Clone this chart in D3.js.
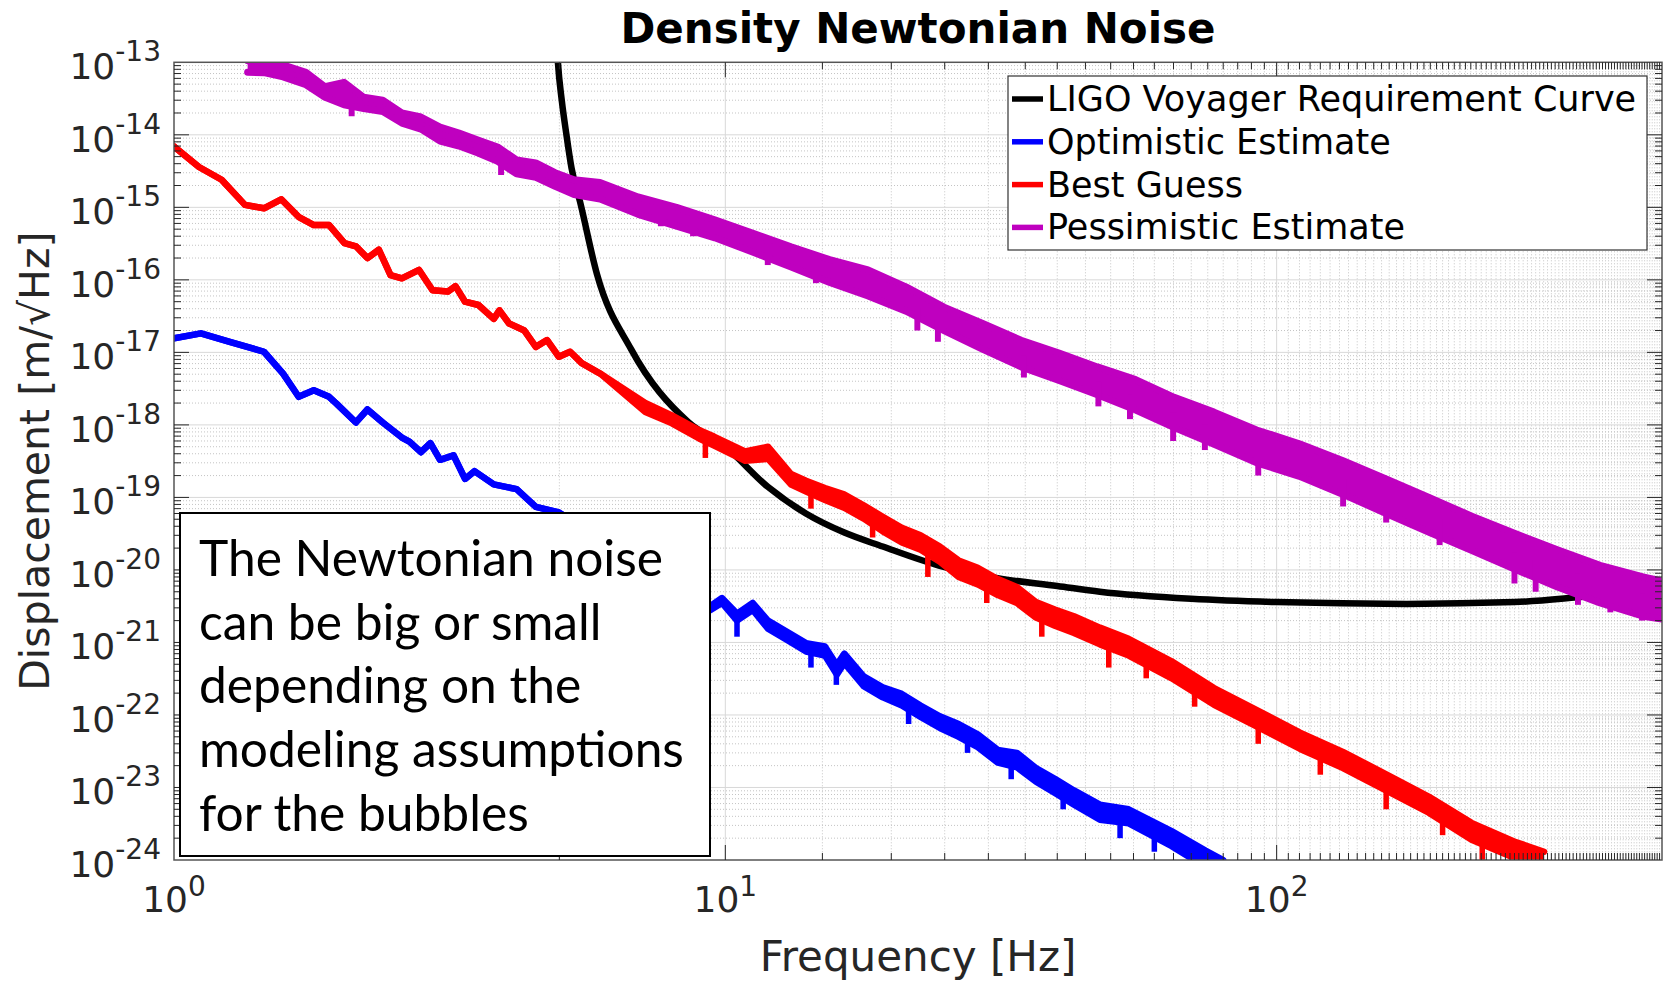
<!DOCTYPE html>
<html><head><meta charset="utf-8">
<script src="https://cdn.jsdelivr.net/npm/d3@7"></script>
<style>body{margin:0;background:#fff}text{font-family:"DejaVu Sans",sans-serif}</style>
</head><body>
<svg id="chart" width="1672" height="987"></svg>
<script>
// ---------- data ----------
const titleText = "Density Newtonian Noise";
const xLabelText = "Frequency [Hz]";
const yLabelText = "Displacement [m/\u221AHz]";
const xTickValues = [1, 10, 100];
const xTickExponents = ["0", "1", "2"];
const yTickValues = [1e-24,1e-23,1e-22,1e-21,1e-20,1e-19,1e-18,1e-17,1e-16,1e-15,1e-14,1e-13];
const yTickExponents = ["-24","-23","-22","-21","-20","-19","-18","-17","-16","-15","-14","-13"];
const legendLabels = ["LIGO Voyager Requirement Curve","Optimistic Estimate","Best Guess","Pessimistic Estimate"];
const seriesColors = ["#000000","#0000ff","#ff0000","#bf00bf"];
const noteLines = ["The Newtonian noise","can be big or small","depending on the","modeling assumptions","for the bubbles"];

// LIGO Voyager requirement (smooth curve)
const reqFreq = [4.93,4.97,5.05,5.15,5.26,5.45,5.85,6.75,8.56,10.0,11.94,14.0,16.4,19.3,24.4,31.2,40,47.8,70,100,172,270,366,500];
const reqValue = [3e-13,1e-13,3e-14,1e-14,3.5e-15,1.2e-15,1.2e-16,1.1e-17,1.1e-18,5.0e-19,1.4e-19,6.0e-20,3.3e-20,2.1e-20,1.15e-20,7.7e-21,6.0e-21,5.0e-21,4.0e-21,3.6e-21,3.4e-21,3.6e-21,4.3e-21,5.2e-21];

// Optimistic estimate (upper / lower envelope of the noisy trace)
const optFreq = [1.0,1.119,1.262,1.456,1.577,1.683,1.793,1.911,1.973,2.138,2.243,2.391,2.59,2.673,2.805,2.918,3.038,3.214,3.372,3.507,3.802,4.182,4.532,4.99,
  9.40,9.86,10.5,11.21,11.95,12.94,14.01,15.16,15.93,16.44,17.82,19.3,20.9,22.6,24.5,26.5,28.7,31.2,33.8,36.6,39.6,42.9,47.8,53.9,64.5,74.3,80];
const optUpper = [1.56e-17,1.83e-17,1.40e-17,1.02e-17,5.1e-18,2.44e-18,3.0e-18,2.44e-18,1.95e-18,1.08e-18,1.63e-18,1.08e-18,6.7e-19,5.9e-19,4.2e-19,5.6e-19,3.3e-19,3.8e-19,1.8e-19,2.3e-19,1.51e-19,1.3e-19,7.4e-20,6.2e-20,
  3.2e-21,4.1e-21,2.5e-21,3.5e-21,2.0e-21,1.4e-21,9.8e-22,8.8e-22,4.9e-22,7.0e-22,3.4e-22,2.4e-22,1.95e-22,1.35e-22,9.6e-23,7.5e-23,5.4e-23,3.3e-23,3.0e-23,1.85e-23,1.32e-23,9.1e-24,5.8e-24,5.0e-24,2.5e-24,1.35e-24,1.0e-24];
const optLower = [1.56e-17,1.83e-17,1.40e-17,1.02e-17,5.1e-18,2.44e-18,3.0e-18,2.44e-18,1.95e-18,1.08e-18,1.63e-18,1.08e-18,6.7e-19,5.9e-19,4.2e-19,5.6e-19,3.3e-19,3.8e-19,1.8e-19,2.3e-19,1.51e-19,1.3e-19,7.4e-20,6.2e-20,
  2.8e-21,3.5e-21,2.0e-21,2.8e-21,1.55e-21,1.08e-21,7.5e-22,6.6e-22,3.6e-22,5.2e-22,2.5e-22,1.75e-22,1.35e-22,9.4e-23,6.6e-23,5.0e-23,3.6e-23,2.2e-23,1.9e-23,1.2e-23,8.4e-24,5.8e-24,3.6e-24,3.2e-24,1.55e-24,8.0e-25,6.0e-25];
// downward spikes of the optimistic trace: frequency, value where the spike leaves the trace, spike tip
const optDipFreq = [10.5,14.3,15.9,21.5,27.5,33.0,41.0,52.0,60.0];
const optDipFrom = [2.2e-21,8.5e-22,4.3e-22,1.4e-22,5.8e-23,2.5e-23,1.0e-23,3.8e-24,2.6e-24];
const optDipTo   = [1.2e-21,4.5e-22,2.6e-22,7.5e-23,3.0e-23,1.3e-23,5.0e-24,2.0e-24,1.3e-24];

// Best guess
const bestFreq = [1.0,1.11,1.22,1.345,1.456,1.565,1.682,1.793,1.911,2.038,2.138,2.243,2.353,2.47,2.59,2.783,2.944,3.139,3.24,3.372,3.566,3.802,3.893,4.053,4.32,4.532,4.75,4.99,5.23,5.49,5.93,
  7.16,8.0,8.96,9.54,10.86,11.95,13.16,14.01,15.16,16.42,17.82,19.3,20.9,22.6,24.5,26.5,28.7,31.2,33.8,36.6,39.6,42.9,47.8,53.9,64.5,77.0,92.1,110.3,131.9,157.8,188.7,225.7,269.6,305.5];
const bestUpper = [6.9e-15,3.6e-15,2.4e-15,1.08e-15,9.7e-16,1.29e-15,7.4e-16,5.7e-16,5.7e-16,3.2e-16,2.9e-16,2.0e-16,2.6e-16,1.16e-16,1.05e-16,1.37e-16,7.2e-17,6.9e-17,8.2e-17,5.0e-17,4.5e-17,2.9e-17,3.8e-17,2.5e-17,2.0e-17,1.19e-17,1.48e-17,8.7e-18,1.02e-17,7.1e-18,5.1e-18,
  2.0e-18,1.35e-18,8.5e-19,6.9e-19,4.3e-19,5.0e-19,2.1e-19,1.7e-19,1.35e-19,1.1e-19,7.8e-20,5.4e-20,3.8e-20,3.0e-20,2.1e-20,1.35e-20,1.07e-20,7.5e-21,5.8e-21,3.6e-21,2.85e-21,2.3e-21,1.6e-21,1.12e-21,5.5e-22,2.35e-22,1.17e-22,5.7e-23,3.1e-23,1.53e-23,7.5e-24,3.25e-24,1.8e-24,1.3e-24];
const bestLower = [6.9e-15,3.6e-15,2.4e-15,1.08e-15,9.7e-16,1.29e-15,7.4e-16,5.7e-16,5.7e-16,3.2e-16,2.9e-16,2.0e-16,2.6e-16,1.16e-16,1.05e-16,1.37e-16,7.2e-17,6.9e-17,8.2e-17,5.0e-17,4.5e-17,2.9e-17,3.8e-17,2.5e-17,2.0e-17,1.19e-17,1.48e-17,8.7e-18,1.02e-17,7.1e-18,5.1e-18,
  1.5e-18,1.05e-18,6.5e-19,5.2e-19,3.2e-19,3.4e-19,1.5e-19,1.2e-19,9.2e-20,7.2e-20,5.1e-20,3.4e-20,2.4e-20,1.9e-20,1.3e-20,8.0e-21,6.3e-21,4.5e-21,3.5e-21,2.2e-21,1.7e-21,1.35e-21,9.4e-22,6.6e-22,3.2e-22,1.38e-22,6.9e-23,3.4e-23,1.85e-23,9.1e-24,4.5e-24,1.9e-24,1.07e-24,7.7e-25];
const bestDipFreq = [9.2,14.3,18.5,23.3,29.8,37.5,49.6,58.0,71.0,92.6,120,158,200,236,280];
const bestDipFrom = [6.0e-19,1.3e-19,5.5e-20,2.0e-20,7.0e-21,2.5e-21,1.1e-21,7.0e-22,3.0e-22,9.0e-23,3.5e-23,1.2e-23,5.0e-24,2.3e-24,1.2e-24];
const bestDipTo   = [3.5e-19,7.0e-20,2.8e-20,8.0e-21,3.5e-21,1.2e-21,4.5e-22,3.2e-22,1.3e-22,4.0e-23,1.5e-23,5.0e-24,2.2e-24,1.0e-24,5.0e-25];

// Pessimistic estimate
const pessFreq = [1.36,1.456,1.577,1.735,1.879,2.034,2.208,2.391,2.59,2.805,3.038,3.289,3.559,3.863,4.182,4.532,4.911,5.317,5.926,6.945,8.155,9.57,11.23,13.16,15.46,18.15,21.27,24.93,29.31,34.4,40.3,47.3,55.5,65.2,77,92,110,132,158,189,226,270,323,386,462,500];
const pessUpper = [1.05e-13,1.0e-13,9.2e-14,7.3e-14,4.6e-14,5.3e-14,3.3e-14,3.0e-14,2.0e-14,1.76e-14,1.28e-14,1.06e-14,8.5e-15,6.8e-15,4.5e-15,4.1e-15,3.0e-15,2.4e-15,2.2e-15,1.39e-15,1.0e-15,6.7e-16,4.4e-16,2.85e-16,1.9e-16,1.37e-16,8.0e-17,4.2e-17,2.5e-17,1.47e-17,9.8e-18,6.3e-18,4.2e-18,2.4e-18,1.5e-18,8.5e-19,5.5e-19,3.2e-19,1.8e-19,1.0e-19,5.5e-20,3.2e-20,1.9e-20,1.16e-20,8.0e-21,7.0e-21];
const pessLower = [7.3e-14,7.2e-14,6.3e-14,4.9e-14,3.3e-14,2.6e-14,2.3e-14,2.1e-14,1.45e-14,1.2e-14,8.2e-15,7.0e-15,5.6e-15,4.3e-15,2.9e-15,2.6e-15,1.95e-15,1.5e-15,1.3e-15,8.0e-16,5.5e-16,3.8e-16,2.4e-16,1.5e-16,9.2e-17,6.0e-17,3.7e-17,2.0e-17,1.1e-17,6.3e-18,4.1e-18,2.6e-18,1.6e-18,9.2e-19,5.4e-19,3.0e-19,1.95e-19,1.1e-19,6.0e-20,3.3e-20,1.85e-20,1.03e-20,5.8e-21,3.5e-21,2.3e-21,2.1e-21];
const pessDipFreq = [2.10,3.92,7.64,8.74,11.94,14.6,22.3,24.3,34.8,47.5,54.2,64.9,74.1,92.6,132,158,197.5,270,295,352,403,460];
const pessDipFrom = [3.2e-14,5.0e-15,1.0e-15,7.5e-16,3.2e-16,1.7e-16,4.0e-17,2.8e-17,9.0e-18,4.0e-18,2.6e-18,1.5e-18,1.0e-18,5.0e-19,1.8e-19,1.0e-19,5.0e-20,1.75e-20,1.4e-20,9.0e-21,6.5e-21,4.8e-21];
const pessDipTo   = [1.8e-14,2.8e-15,5.5e-16,4.0e-16,1.6e-16,9.0e-17,2.0e-17,1.4e-17,4.5e-18,1.8e-18,1.2e-18,6.0e-19,4.5e-19,2.0e-19,7.5e-20,4.5e-20,2.2e-20,6.5e-21,5.0e-21,3.3e-21,2.6e-21,2.0e-21];

// ---------- drawing ----------
const svg = d3.select("#chart");
const P = {left:174, right:1662, top:62.3, bottom:860};
const x = d3.scaleLog().domain([1,500]).range([P.left,P.right]);
const y = d3.scaleLog().domain([1e-24,1e-13]).range([P.bottom,P.top]);
const axisColor = "#262626";

svg.append("rect").attr("width",1672).attr("height",987).attr("fill","#fff");
svg.append("defs").append("clipPath").attr("id","clip").append("rect")
  .attr("x",P.left).attr("y",P.top).attr("width",P.right-P.left).attr("height",P.bottom-P.top);

const xAll = x.ticks(100).filter(v => v > 1 && v < 500);
const yAll = y.ticks(100).filter(v => v > 1e-24*1.0001 && v < 1e-13*0.9999);
const isPow = v => Math.abs(Math.log10(v) - Math.round(Math.log10(v))) < 1e-6;

const grid = svg.append("g");
grid.selectAll(".xm").data(xAll.filter(v=>!isPow(v))).join("line")
  .attr("x1",d=>x(d)).attr("x2",d=>x(d)).attr("y1",P.top).attr("y2",P.bottom)
  .attr("stroke","#c4c4c4").attr("stroke-width",1).attr("stroke-dasharray","1,2");
grid.selectAll(".ym").data(yAll.filter(v=>!isPow(v))).join("line")
  .attr("y1",d=>y(d)).attr("y2",d=>y(d)).attr("x1",P.left).attr("x2",P.right)
  .attr("stroke","#c4c4c4").attr("stroke-width",1).attr("stroke-dasharray","1,2");
grid.selectAll(".xM").data(xAll.filter(isPow)).join("line")
  .attr("x1",d=>x(d)).attr("x2",d=>x(d)).attr("y1",P.top).attr("y2",P.bottom)
  .attr("stroke","#d8d8d8").attr("stroke-width",1);
grid.selectAll(".yM").data(yAll.filter(isPow)).join("line")
  .attr("y1",d=>y(d)).attr("y2",d=>y(d)).attr("x1",P.left).attr("x2",P.right)
  .attr("stroke","#d8d8d8").attr("stroke-width",1);

// series
const plot = svg.append("g").attr("clip-path","url(#clip)");
plot.append("path")
  .datum(reqFreq.map((f,i)=>[f,reqValue[i]]))
  .attr("d", d3.line().x(d=>x(d[0])).y(d=>y(d[1])).curve(d3.curveMonotoneX))
  .attr("fill","none").attr("stroke",seriesColors[0]).attr("stroke-width",6.5);

function band(freq, up, lo, dipF, dipFrom, dipTo, color, sw){
  const g = plot.append("g");
  const pts = freq.map((f,i)=>({f, u:up[i], l:lo[i]}));
  g.append("path").datum(pts)
    .attr("d", d3.area().x(d=>x(d.f)).y0(d=>y(d.l)).y1(d=>y(d.u)))
    .attr("fill",color).attr("stroke","none");
  ["u","l"].forEach(k=>{
    g.append("path").datum(pts)
      .attr("d", d3.line().x(d=>x(d.f)).y(d=>y(d[k])))
      .attr("fill","none").attr("stroke",color).attr("stroke-width",sw)
      .attr("stroke-linejoin","round").attr("stroke-linecap","round");
  });
  g.selectAll(".dip").data(dipF.map((f,i)=>({f, a:dipFrom[i], b:dipTo[i]}))).join("line")
    .attr("x1",d=>x(d.f)).attr("x2",d=>x(d.f)).attr("y1",d=>y(d.a)).attr("y2",d=>y(d.b))
    .attr("stroke",color).attr("stroke-width",sw*0.85);
}
band(optFreq, optUpper, optLower, optDipFreq, optDipFrom, optDipTo, seriesColors[1], 6.5);
band(bestFreq, bestUpper, bestLower, bestDipFreq, bestDipFrom, bestDipTo, seriesColors[2], 6.5);
band(pessFreq, pessUpper, pessLower, pessDipFreq, pessDipFrom, pessDipTo, seriesColors[3], 7);

// axes frame & ticks
const ax = svg.append("g").attr("stroke",axisColor).attr("stroke-width",1);
ax.append("rect").attr("x",P.left).attr("y",P.top).attr("width",P.right-P.left).attr("height",P.bottom-P.top)
  .attr("fill","none").attr("stroke","#555").attr("stroke-width",1.5);
xAll.forEach(v=>{
  const L = isPow(v) ? 15 : 7, px = x(v);
  ax.append("line").attr("x1",px).attr("x2",px).attr("y1",P.bottom).attr("y2",P.bottom-L);
  ax.append("line").attr("x1",px).attr("x2",px).attr("y1",P.top).attr("y2",P.top+L);
});
yAll.forEach(v=>{
  const L = isPow(v) ? 15 : 7, py = y(v);
  ax.append("line").attr("y1",py).attr("y2",py).attr("x1",P.left).attr("x2",P.left+L);
  ax.append("line").attr("y1",py).attr("y2",py).attr("x1",P.right).attr("x2",P.right-L);
});

// tick labels
xTickValues.forEach((v,i)=>{
  const t = svg.append("text").attr("x",x(v)).attr("y",P.bottom+52).attr("text-anchor","middle")
    .attr("fill",axisColor).attr("font-size",36);
  t.append("tspan").text("10");
  t.append("tspan").attr("dy",-16).attr("font-size",28).text(xTickExponents[i]);
});
yTickValues.forEach((v,i)=>{
  const t = svg.append("text").attr("x",161).attr("y",y(v)+17).attr("text-anchor","end")
    .attr("fill",axisColor).attr("font-size",36);
  t.append("tspan").text("10");
  t.append("tspan").attr("dy",-18).attr("font-size",28).text(yTickExponents[i]);
});

// axis labels & title
svg.append("text").attr("x",(P.left+P.right)/2).attr("y",971).attr("text-anchor","middle")
  .attr("font-size",42).attr("fill",axisColor).text(xLabelText);
svg.append("text").attr("transform",`translate(49,${(P.top+P.bottom)/2}) rotate(-90)`).attr("text-anchor","middle")
  .attr("font-size",41).attr("fill",axisColor).text(yLabelText);
svg.append("text").attr("x",(P.left+P.right)/2).attr("y",43).attr("text-anchor","middle")
  .attr("font-size",42).attr("font-weight","bold").attr("fill","#000").text(titleText);

// legend
const lg = svg.append("g");
lg.append("rect").attr("x",1008).attr("y",76).attr("width",639).attr("height",174)
  .attr("fill","#fff").attr("stroke","#333").attr("stroke-width",1.2);
legendLabels.forEach((lab,i)=>{
  const cy = 99 + i*42.8;
  lg.append("line").attr("x1",1012).attr("x2",1043).attr("y1",cy).attr("y2",cy)
    .attr("stroke",seriesColors[i]).attr("stroke-width",5.5);
  lg.append("text").attr("x",1047).attr("y",cy+12).attr("font-size",35).attr("fill","#000").text(lab);
});

// annotation box
const nb = svg.append("g");
nb.append("rect").attr("x",180).attr("y",513).attr("width",530).attr("height",343)
  .attr("fill","#fff").attr("stroke","#000").attr("stroke-width",2);
const noteTexts = noteLines.map((s,i)=> nb.append("text").attr("x",199).attr("y",576+i*63.7)
  .style("font-family","Lato, 'Open Sans', sans-serif").attr("font-size",46).attr("fill","#000").text(s));
const wLong = noteTexts[3].node().getComputedTextLength();
const fs = 46*485/wLong;
noteTexts.forEach(t=>t.attr("font-size",fs));
</script>
</body></html>
